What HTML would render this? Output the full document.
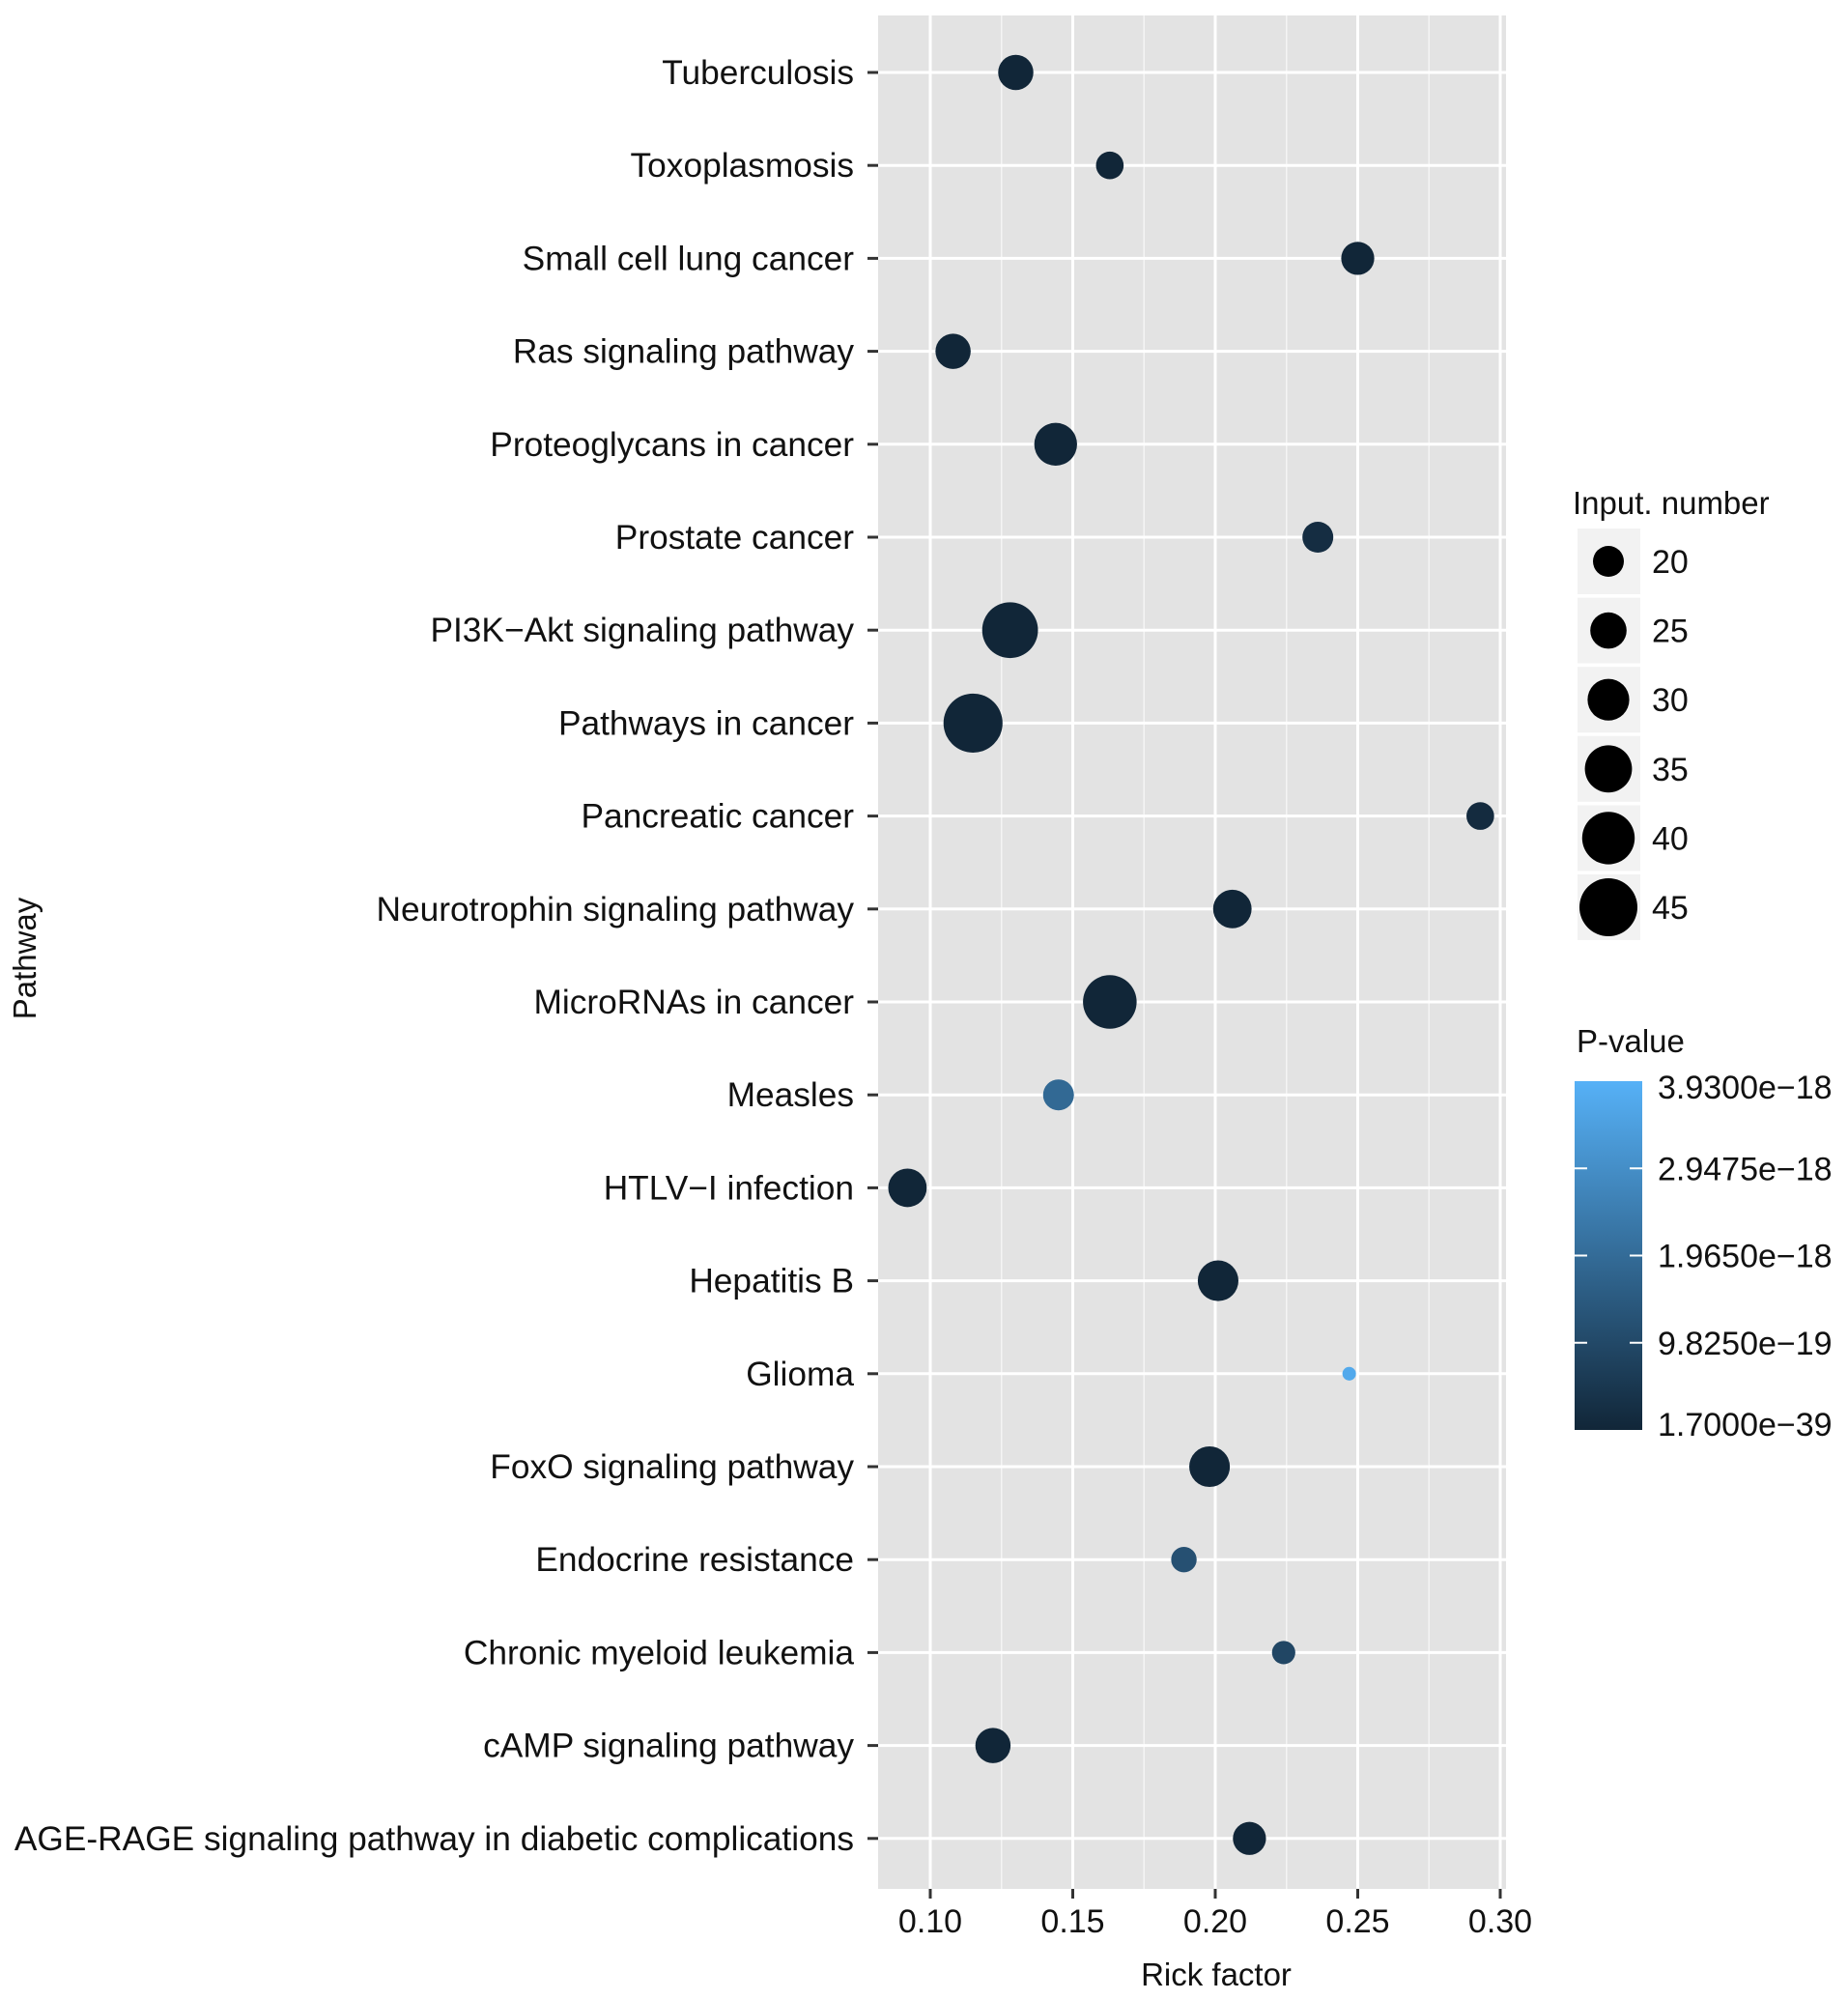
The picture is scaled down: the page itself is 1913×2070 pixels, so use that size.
<!DOCTYPE html>
<html><head><meta charset="utf-8"><style>
html,body{margin:0;padding:0;background:#fff;}
svg text{font-family:"Liberation Sans",Arial,sans-serif;fill:#111;}
</style></head><body>
<svg id="chart" width="1913" height="2065" viewBox="0 0 1913 2065" xmlns="http://www.w3.org/2000/svg">
<defs><linearGradient id="pgrad" x1="0" y1="1" x2="0" y2="0"><stop offset="0" stop-color="#112638"/><stop offset="1" stop-color="#56B1F7"/></linearGradient></defs>
<g id="plot"></g>
</svg>
<script>
const pathways=["Tuberculosis","Toxoplasmosis","Small cell lung cancer","Ras signaling pathway","Proteoglycans in cancer","Prostate cancer","PI3K\u2212Akt signaling pathway","Pathways in cancer","Pancreatic cancer","Neurotrophin signaling pathway","MicroRNAs in cancer","Measles","HTLV\u2212I infection","Hepatitis B","Glioma","FoxO signaling pathway","Endocrine resistance","Chronic myeloid leukemia","cAMP signaling pathway","AGE-RAGE signaling pathway in diabetic complications"];
const richFactor=[0.130,0.163,0.250,0.108,0.144,0.236,0.128,0.115,0.293,0.206,0.163,0.145,0.092,0.201,0.247,0.198,0.189,0.224,0.122,0.212];
const inputNumber=[24,17,22,24,31,20,43,46,17,27,41,20,27,29,4,29,15,13,24,22];
const pValue=[0,0,0,0,0,2e-19,0,0,1.5e-19,0,0,1.9e-18,0,0,3.7e-18,0,1.2e-18,0.9e-18,0,0];
const xTicks=[0.10,0.15,0.20,0.25,0.30];
const xTickLabels=["0.10","0.15","0.20","0.25","0.30"];
const sizeBreaks=[20,25,30,35,40,45];
const pTicks=[3.93e-18,2.9475e-18,1.965e-18,9.825e-19,1.7e-39];
const pTickLabels=["3.9300e\u221218","2.9475e\u221218","1.9650e\u221218","9.8250e\u221219","1.7000e\u221239"];

const NS="http://www.w3.org/2000/svg";
const g=document.getElementById('plot');
function mk(t,a,p){const e=document.createElementNS(NS,t);for(const k in a)e.setAttribute(k,a[k]);(p||g).appendChild(e);return e;}
const PL=909,PR=1559,PT=16,PB=1955;
const xs=v=>963+(v-0.10)*2950;
const ys=i=>75+i*96.2;
const rs=n=>Math.max(5,16+0.56*(n-20));
const pMax=3.93e-18;
function col(p){const t=Math.min(1,Math.max(0,p/pMax));const a=[0x11,0x26,0x38],b=[0x56,0xB1,0xF7];return 'rgb('+a.map((c,i)=>Math.round(c+(b[i]-c)*t)).join(',')+')';}

let e=mk('rect',{x:PL,y:PT,width:PR-PL,height:PB-PT,fill:'#e3e3e3'});


for(let i=0;i<xTicks.length;i++){const v=xTicks[i]-0.025;const x=xs(v);if(x>PL&&x<PR){e=mk('line',{x1:x,x2:x,y1:PT,y2:PB,stroke:'#f4f4f4','stroke-width':1.5});}}
xTicks.forEach((v,i)=>{const x=xs(v);
e=mk('line',{x1:x,x2:x,y1:PT,y2:PB,stroke:'#fff','stroke-width':3});
e=mk('line',{x1:x,x2:x,y1:PB,y2:PB+10,stroke:'#333','stroke-width':3});
e=mk('text',{x:x,y:PB+45,'font-size':34,'text-anchor':'middle'});e.textContent=xTickLabels[i];});
pathways.forEach((p,i)=>{const y=ys(i);
e=mk('line',{x1:PL,x2:PR,y1:y,y2:y,stroke:'#fff','stroke-width':3});
e=mk('line',{x1:PL-11,x2:PL,y1:y,y2:y,stroke:'#333','stroke-width':3});
e=mk('text',{x:884,y:y+12,'font-size':35.3,'text-anchor':'end'});e.textContent=p;});
pathways.forEach((p,i)=>{e=mk('circle',{cx:xs(richFactor[i]),cy:ys(i),r:rs(inputNumber[i]),fill:col(pValue[i])});});
e=mk('text',{x:1259,y:2055,'font-size':33,'text-anchor':'middle'});e.textContent='Rick factor';
e=mk('text',{x:37,y:992,'font-size':33,'text-anchor':'middle',transform:'rotate(-90 37 992)'});e.textContent='Pathway';
e=mk('text',{x:1628,y:532,'font-size':33});e.textContent='Input. number';
sizeBreaks.forEach((n,i)=>{const cy=581+i*71.6;
e=mk('rect',{x:1633,y:cy-34,width:65,height:68,fill:'#f2f2f2'});
e=mk('circle',{cx:1665,cy:cy,r:rs(n),fill:'#000'});
e=mk('text',{x:1710,y:cy+12,'font-size':34});e.textContent=String(n);});
e=mk('text',{x:1632,y:1089,'font-size':33});e.textContent='P-value';
const cT=1119,cB=1480;const py=v=>cB-(v/pMax)*(cB-cT);
e=mk('rect',{x:1630,y:cT,width:70,height:cB-cT,fill:'url(#pgrad)'});
pTicks.forEach((v,i)=>{const y=Math.min(cB-6,Math.max(cT+6,py(v)));
if(i>0&&i<pTicks.length-1){mk('line',{x1:1630,x2:1643,y1:py(v),y2:py(v),stroke:'#fff','stroke-width':2});mk('line',{x1:1687,x2:1700,y1:py(v),y2:py(v),stroke:'#fff','stroke-width':2});}
e=mk('text',{x:1716,y:y+12,'font-size':34});e.textContent=pTickLabels[i];});
</script>
</body></html>
